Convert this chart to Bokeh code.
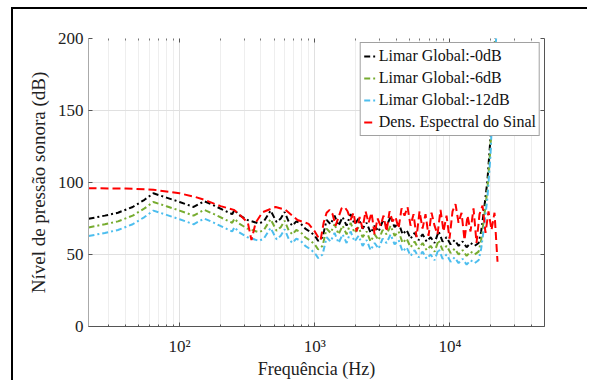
from bokeh.plotting import figure
from bokeh.models import Range1d, FixedTicker, LinearAxis, LogAxis, Legend, LegendItem
from bokeh.embed import file_html
from bokeh.resources import INLINE

# ---- data ----
freq_lim = [21.2, 28, 35, 45, 55, 64, 80, 100, 127, 152, 180, 215, 245, 255, 275, 317, 386, 420,
            471, 522, 560, 598, 640, 682, 730, 786, 850, 931, 1000, 1060,
            1142, 1223, 1309, 1401, 1500, 1606, 1719, 1840, 1970, 2109, 2258, 2417, 2587, 2770,
            2965, 3174, 3398, 3637, 3894, 4168, 4462, 4777, 5113, 5474, 5860, 6273, 6715, 7188,
            7695, 8238, 8818, 9440, 10106, 10818, 11581, 12397, 13271, 14207, 15208, 16281,
            17000, 17800, 18900, 19900, 21500, 23000, 25000]

lim_0db = [74.8, 77, 79, 83, 88, 92.5, 89.5, 86.5, 83, 87, 84, 80.5, 78, 81, 77.5, 74, 71.5, 73,
           80.5, 72.5, 75, 79.5, 73, 70, 73, 71.5, 68, 65.5, 63, 59.5,
           62, 74, 71, 77, 70, 76, 70, 78, 71, 75, 68, 72, 65, 70,
           66, 73, 70, 76, 69, 72, 64, 67, 61, 65, 60, 64, 59, 62,
           58, 66, 59, 62, 57, 60, 56, 59, 55, 58, 56, 58,
           66, 80, 101, 130, 200, 240, 280]

lim_6db = [68.8, 71, 73, 77, 82, 86.5, 83.5, 80.5, 77, 81, 78, 74.5, 72, 75, 71.5, 68, 65.5, 67,
           74.5, 66.5, 69, 73.5, 67, 64, 67, 65.5, 62, 59.5, 57, 53.5,
           56, 68, 65, 71, 64, 70, 64, 72, 65, 69, 62, 66, 59, 64,
           60, 67, 64, 70, 63, 66, 58, 61, 55, 59, 54, 58, 53, 56,
           52, 60, 53, 56, 51, 54, 50, 53, 49, 52, 50, 52,
           60, 74, 95, 124, 194, 234, 274]

lim_12db = [62.8, 65, 67, 71, 76, 80.5, 77.5, 74.5, 71, 75, 72, 68.5, 66, 69, 65.5, 62, 59.5, 61,
            68.5, 60.5, 63, 67.5, 61, 58, 61, 59.5, 56, 53.5, 51, 47.5,
            50, 62, 59, 65, 58, 64, 58, 66, 59, 63, 56, 60, 53, 58,
            54, 61, 58, 64, 57, 60, 52, 55, 49, 53, 48, 52, 47, 50,
            46, 54, 47, 50, 45, 48, 44, 47, 43, 46, 44, 46,
            54, 68, 89, 118, 188, 228, 268]

freq_psd = [21.2, 40, 64, 100, 130, 152, 201, 252, 283, 320, 340, 365, 411, 513, 607, 745, 900, 1000, 1060,
            1104, 1162, 1223, 1287, 1354, 1425, 1500, 1578, 1661, 1748, 1840, 1936, 2037, 2144,
            2256, 2374, 2499, 2630, 2767, 2912, 3065, 3225, 3394, 3572, 3759, 3956, 4164, 4382,
            4611, 4853, 5107, 5375, 5656, 5953, 6265, 6593, 6938, 7302, 7684, 8087, 8511, 8957,
            9426, 9920, 10440, 10987, 11563, 12169, 12807, 13478, 14184, 14927, 15710, 16533,
            17399, 18311, 19270, 20280, 21342, 22461]

psd = [96, 95.8, 95, 92.5, 90, 88, 83.6, 81, 77, 72, 60, 72, 79.4, 83, 81, 74, 71.3, 66, 62,
       60, 72, 79, 81, 78, 70, 76, 82, 83, 80, 74, 79, 66, 76,
       68, 80, 72, 79, 64, 75, 70, 77, 66, 80, 73, 76, 68, 82,
       77, 83, 70, 78, 62, 80, 68, 78, 63, 79, 70, 64, 81, 66,
       77, 61, 80, 85, 72, 79, 60, 77, 66, 82, 58, 78,
       84, 65, 80, 67, 79, 45]

labels = ["Limar Global:-0dB", "Limar Global:-6dB", "Limar Global:-12dB", "Dens. Espectral do Sinal"]
colors = ["#000000", "#77AC30", "#4DBEEE", "#FF0000"]

x_major = [100, 1000, 10000]
x_minor = [30, 40, 50, 60, 70, 80, 90, 200, 300, 400, 500, 600, 700, 800, 900,
           2000, 3000, 4000, 5000, 6000, 7000, 8000, 9000, 20000, 30000, 40000]
y_ticks = [0, 50, 100, 150, 200]

SERIF = "Liberation Serif"

p = figure(width=576, height=373, x_axis_type="log",
           x_range=Range1d(21.2, 50000), y_range=Range1d(0, 200),
           output_backend="svg", toolbar_location=None,
           min_border_left=75, min_border_right=45, min_border_top=29, min_border_bottom=56,
           outline_line_color=None, background_fill_color="white", border_fill_color="white")
p.styles = {"margin-left": "11px", "margin-top": "7px",
            "border-left": "2px solid #000", "border-top": "2px solid #000"}

DASHDOT = "6 3 2 3"
r0 = p.line(freq_lim, lim_0db, line_color=colors[0], line_width=2, line_dash=DASHDOT)
r1 = p.line(freq_lim, lim_6db, line_color=colors[1], line_width=2, line_dash=DASHDOT)
r2 = p.line(freq_lim, lim_12db, line_color=colors[2], line_width=2, line_dash=DASHDOT)
r3 = p.line(freq_psd, psd, line_color=colors[3], line_width=2, line_dash="8 4")

# axes
p.xaxis.ticker = FixedTicker(ticks=x_major, minor_ticks=x_minor)
p.xaxis.major_label_overrides = {100: "10²", 1000: "10³", 10000: "10⁴"}
p.yaxis.ticker = FixedTicker(ticks=y_ticks)
for ax in (p.xaxis[0], p.yaxis[0]):
    ax.major_label_text_font = SERIF
    ax.major_label_text_font_size = "17px"
    ax.major_label_text_color = "#222222"
    ax.axis_label_text_font = SERIF
    ax.axis_label_text_font_size = "18px"
    ax.axis_label_text_font_style = "normal"
    ax.axis_label_text_color = "#222222"
    ax.major_tick_in = 4
    ax.major_tick_out = 0
    ax.minor_tick_in = 2
    ax.minor_tick_out = 0
    ax.axis_line_color = "#555555"
    ax.major_tick_line_color = "#555555"
    ax.minor_tick_line_color = "#555555"
p.xaxis.axis_label = "Frequência (Hz)"
p.yaxis.axis_label = "Nível de pressão sonora (dB)"
p.yaxis.axis_label_text_font_size = "19px"
p.xaxis.major_label_standoff = 10
p.xaxis.axis_label_standoff = 0
p.yaxis.major_label_standoff = 5
p.yaxis.axis_label_standoff = 6
p.yaxis.minor_tick_line_color = None
p.yaxis.axis_line_color = "#aaaaaa"

right = LinearAxis(ticker=FixedTicker(ticks=y_ticks), major_label_text_color=None,
                   major_label_text_font_size="8px",
                   major_tick_in=4, major_tick_out=0,
                   major_tick_line_color="#555555", minor_tick_line_color=None,
                   axis_line_color="#555555")
p.add_layout(right, "right")
top = LogAxis(ticker=FixedTicker(ticks=x_major, minor_ticks=x_minor), major_label_text_color=None,
              major_label_text_font_size="8px",
              major_tick_in=4, major_tick_out=0, minor_tick_in=2, minor_tick_out=0,
              major_tick_line_color="#555555", minor_tick_line_color="#777777",
              axis_line_color=None)
p.add_layout(top, "above")

# grids
p.xgrid.grid_line_color = "#e0e0e0"
p.xgrid.minor_grid_line_color = "#eeeeee"
p.ygrid.grid_line_color = "#e0e0e0"

legend = Legend(items=[LegendItem(label=labels[i], renderers=[r]) for i, r in enumerate([r0, r1, r2, r3])],
                location="top_right")
legend.label_text_font = SERIF
legend.label_text_font_size = "16px"
legend.label_text_color = "#111111"
legend.glyph_width = 12
legend.glyph_height = 20
legend.label_height = 20
legend.label_standoff = 3
legend.spacing = 2
legend.padding = 3
legend.margin = 4
legend.border_line_color = "#444444"
legend.border_line_width = 1
legend.background_fill_alpha = 1
p.add_layout(legend)

open("out.html", "w").write(file_html(p, INLINE))
